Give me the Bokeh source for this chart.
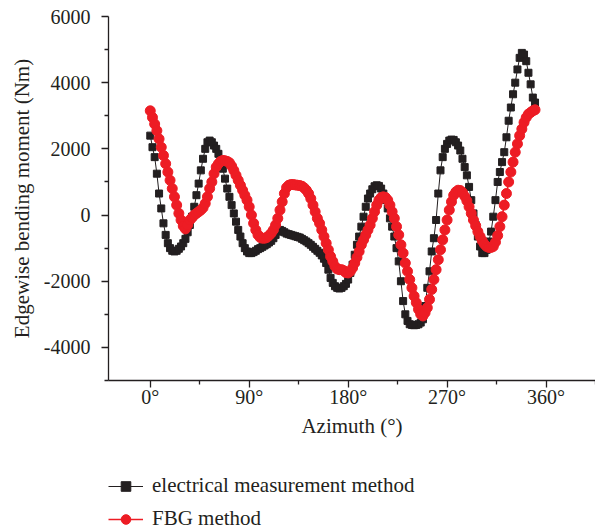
from bokeh.plotting import figure
from bokeh.layouts import column
from bokeh.models import FixedTicker, Legend, LegendItem, Range1d
from bokeh.embed import file_html
from bokeh.resources import INLINE

# Azimuth samples (degrees), one reading every 2 degrees
azimuth = list(range(0, 351, 2))

# Edgewise bending moment (Nm), electrical measurement method
electrical = [
    2400, 2050, 1750, 1250, 650, 200, -250, -600, -850, -1000,
    -1080, -1100, -1080, -1020, -950, -850, -720, -520, -300, -50,
    250, 600, 950, 1350, 1700, 2000, 2200, 2250, 2200, 2100,
    2000, 1850, 1650, 1400, 1100, 800, 550, 300, 50, -200,
    -450, -650, -850, -1000, -1100, -1150, -1150, -1120, -1080, -1030,
    -1000, -960, -920, -880, -830, -780, -700, -600, -500, -450,
    -480, -520, -560, -580, -600, -620, -640, -660, -680, -720,
    -760, -800, -850, -900, -960, -1020, -1080, -1140, -1220, -1320,
    -1450, -1650, -1900, -2050, -2150, -2200, -2220, -2200, -2150, -2080,
    -1950, -1750, -1500, -1200, -900, -650, -350, -50, 250, 500,
    650, 780, 870, 900, 880, 800, 650, 450, 200, -100,
    -350, -650, -1000, -1400, -2000, -2600, -3000, -3200, -3300, -3320,
    -3330, -3320, -3300, -3250, -3150, -2750, -2200, -1700, -1100, -700,
    -150, 650, 1350, 1750, 2000, 2150, 2250, 2280, 2270, 2200,
    2100, 1950, 1700, 1450, 1200, 850, 450, 50, -300, -650,
    -950, -1150, -1150, -1050, -800, -500, -50, 450, 1000, 1300,
    1600, 1900, 2350, 2850, 3250, 3650, 4000, 4400, 4750, 4900,
    4850, 4650, 4300, 3950, 3550, 3400,
]

# Edgewise bending moment (Nm), FBG method
fbg = [
    3150, 2950, 2750, 2550, 2300, 2050, 1800, 1550, 1300, 1050,
    800, 550, 300, 50, -150, -330, -420, -300, -150, -80,
    0, 50, 100, 150, 220, 350, 550, 800, 1000, 1250,
    1450, 1550, 1620, 1650, 1640, 1620, 1580, 1480, 1350, 1200,
    1050, 900, 750, 600, 450, 250, 0, -250, -450, -600,
    -680, -700, -700, -680, -620, -550, -450, -300, -100, 150,
    400, 650, 830, 900, 920, 920, 910, 900, 890, 870,
    820, 750, 650, 500, 300, 100, -100, -250, -450, -650,
    -850, -1050, -1250, -1400, -1550, -1630, -1650, -1650, -1680, -1740,
    -1750, -1700, -1600, -1450, -1280, -1100, -900, -750, -600, -450,
    -300, -100, 100, 300, 450, 530, 550, 530, 450, 300,
    100, -100, -350, -600, -900, -1150, -1450, -1700, -1950, -2200,
    -2450, -2650, -2850, -3000, -3050, -2950, -2800, -2550, -2250, -1950,
    -1650, -1350, -1050, -750, -450, -150, 150, 400, 600, 700,
    750, 740, 680, 570, 430, 250, 50, -150, -320, -500,
    -650, -780, -880, -950, -980, -980, -950, -820, -620, -350,
    -50, 300, 650, 1000, 1300, 1600, 1900, 2150, 2400, 2600,
    2800, 2950, 3050, 3100, 3150, 3180,
]

series_names = ["electrical measurement method", "FBG method"]

x_ticks = [0, 90, 180, 270, 360]
x_minor = [-45, 45, 135, 225, 315, 405]
x_labels = ["0°", "90°", "180°", "270°", "360°"]
y_ticks = [-4000, -2000, 0, 2000, 4000, 6000]
y_minor = [-5000, -3000, -1000, 1000, 3000, 5000]
y_labels = ["-4000", "-2000", "0", "2000", "4000", "6000"]

DARK = "#231f20"
RED = "#ed1c24"
FONT = "Liberation Serif"

EL_LINE = dict(line_color=DARK, line_width=1)
FBG_LINE = dict(line_color=RED, line_width=1.5)


def square_style(size):
    return dict(marker="square", size=size, fill_color=DARK, line_color=DARK)


def circle_style(size):
    return dict(marker="circle", size=size, fill_color=RED, line_color=RED)


p = figure(
    frame_width=487, frame_height=364,
    x_range=Range1d(-38, 405), y_range=Range1d(-5000, 6000),
    output_backend="svg", toolbar_location=None,
    min_border_left=108, min_border_right=0,
    min_border_top=16, min_border_bottom=93,
)
p.grid.visible = False
p.outline_line_color = None

p.line(azimuth, electrical, **EL_LINE)
p.scatter(azimuth, electrical, **square_style(7))
p.line(azimuth, fbg, **FBG_LINE)
p.scatter(azimuth, fbg, **circle_style(10))

# Axes
p.xaxis.ticker = FixedTicker(ticks=x_ticks, minor_ticks=x_minor)
p.xaxis.major_label_overrides = dict(zip(x_ticks, x_labels))
p.xaxis.axis_label = "Azimuth (°)"
p.yaxis.ticker = FixedTicker(ticks=y_ticks, minor_ticks=y_minor)
p.yaxis.major_label_overrides = dict(zip(y_ticks, y_labels))
p.yaxis.axis_label = "Edgewise bending moment (Nm)"

for ax in (p.xaxis[0], p.yaxis[0]):
    ax.axis_line_color = DARK
    ax.axis_line_width = 1.3
    ax.major_tick_line_color = DARK
    ax.minor_tick_line_color = DARK
    ax.major_tick_line_width = 1.3
    ax.minor_tick_line_width = 1.3
    ax.major_tick_in = 0
    ax.major_tick_out = 7
    ax.minor_tick_in = 0
    ax.minor_tick_out = 4
    ax.major_label_text_font = FONT
    ax.major_label_text_font_size = "20px"
    ax.major_label_text_color = DARK
    ax.axis_label_text_font = FONT
    ax.axis_label_text_font_size = "21px"
    ax.axis_label_text_font_style = "normal"
    ax.axis_label_text_color = DARK

p.xaxis.major_label_standoff = -2
p.xaxis.axis_label_standoff = 3
p.yaxis.major_label_standoff = 11
p.yaxis.axis_label_standoff = 7

# Key strip under the chart, aligned with the plot frame's left edge.
# Its series sit outside the strip's y range, so only the key entries show.
key = figure(
    width=595, height=57, output_backend="svg", toolbar_location=None,
    x_range=Range1d(-38, 405), y_range=Range1d(10000, 11000),
    min_border_left=108, min_border_right=0, min_border_top=0, min_border_bottom=0,
)
key.axis.visible = False
key.grid.visible = False
key.outline_line_color = None

k_el_line = key.line(azimuth, electrical, **EL_LINE)
k_el_pts = key.scatter(azimuth, electrical, **square_style(6))
k_fbg_line = key.line(azimuth, fbg, **FBG_LINE)
k_fbg_pts = key.scatter(azimuth, fbg, **circle_style(8))

legend = Legend(
    items=[
        LegendItem(label=series_names[0], renderers=[k_el_line, k_el_pts]),
        LegendItem(label=series_names[1], renderers=[k_fbg_line, k_fbg_pts]),
    ],
    location="top_left", orientation="vertical",
    border_line_color=None, background_fill_alpha=0,
    padding=0, margin=0, spacing=8,
    glyph_width=35, glyph_height=24, label_height=24, label_standoff=9,
    label_text_font=FONT, label_text_font_size="21px", label_text_color=DARK,
)
key.add_layout(legend)

page = column(p, key, spacing=0)
open("out.html", "w").write(file_html(page, INLINE))
